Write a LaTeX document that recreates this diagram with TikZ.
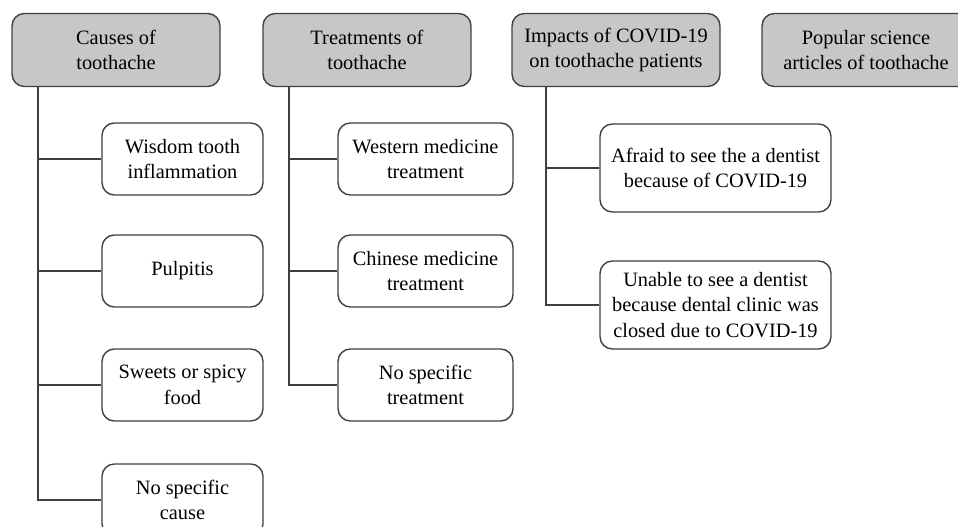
\documentclass[tikz,border=0pt]{standalone}
\usepackage{fontspec}
\setmainfont{Liberation Serif}
\usetikzlibrary{positioning}

\begin{document}
\begin{tikzpicture}[x=0.02cm,y=-0.02cm,
        topic/.style={draw=black!75, line width=0.8pt, fill=black!22, rounded corners=7pt, minimum width=4.16cm, minimum height=1.46cm, align=center, font=\fontsize{11.6}{14.4}\selectfont},
        item/.style={draw=black!75, line width=0.8pt, fill=white, rounded corners=7pt, minimum height=1.44cm, align=center, font=\fontsize{11.6}{14.4}\selectfont},
        link/.style={draw=black!75, line width=0.8pt}]
        \useasboundingbox (0,0) rectangle (958,527);
        \node[topic] (cause) at (116,50) {Causes of\\toothache};
        \node[topic] (treat) at (367,50) {Treatments of\\toothache};
        \node[topic] (covid) at (616,50) {Impacts of COVID-19\\on toothache patients};
        \node[topic] (pop) at (866,50) {Popular science\\articles of toothache};
        \node[item, minimum width=3.22cm] (wis) at (182.5,159) {Wisdom tooth\\inflammation};
        \node[item, minimum width=3.22cm] (pul) at (182.5,271) {Pulpitis};
        \node[item, minimum width=3.22cm] (swe) at (182.5,385) {Sweets or spicy\\food};
        \node[item, minimum width=3.22cm] (nsc) at (182.5,500) {No specific\\cause};
        \node[item, minimum width=3.5cm] (wes) at (425.5,159) {Western medicine\\treatment};
        \node[item, minimum width=3.5cm] (chi) at (425.5,271) {Chinese medicine\\treatment};
        \node[item, minimum width=3.5cm] (nst) at (425.5,385) {No specific\\treatment};
        \node[item, minimum width=4.62cm, minimum height=1.76cm] (afr) at (715.5,168) {Afraid to see the a dentist\\because of COVID-19};
        \node[item, minimum width=4.62cm, minimum height=1.76cm] (una) at (715.5,305) {Unable to see a dentist\\because dental clinic was\\closed due to COVID-19};
        \coordinate (t1) at (38,87);
        \coordinate (t2) at (289,87);
        \coordinate (t3) at (546,87);
        \foreach \c in {wis,pul,swe,nsc} \draw[link] (t1) |- (\c.west);
        \foreach \c in {wes,chi,nst} \draw[link] (t2) |- (\c.west);
        \foreach \c in {afr,una} \draw[link] (t3) |- (\c.west);
    \end{tikzpicture}
\end{document}
